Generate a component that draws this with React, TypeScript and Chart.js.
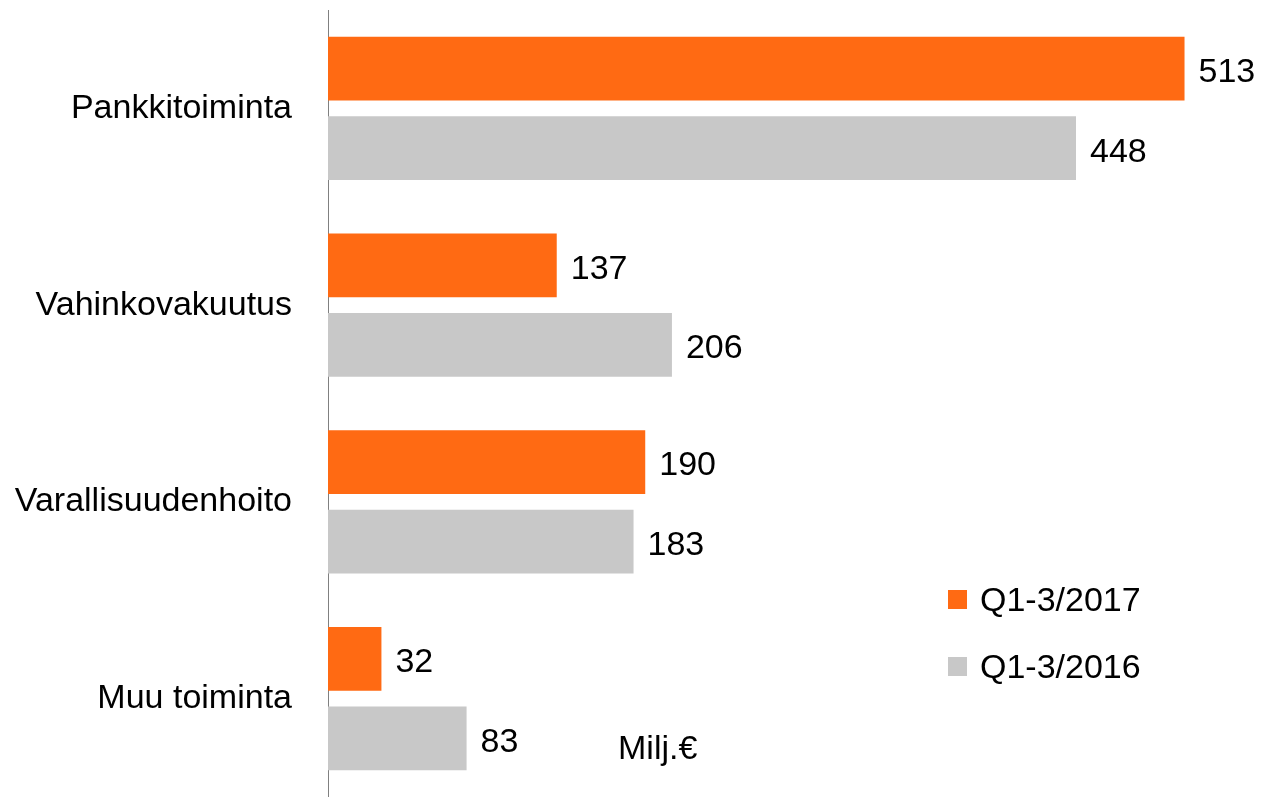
import React, { useEffect, useRef } from "react";
import { Chart, registerables } from "chart.js";

Chart.register(...registerables);

const categories = ["Pankkitoiminta", "Vahinkovakuutus", "Varallisuudenhoito", "Muu toiminta"];
const series2017 = [513, 137, 190, 32];
const series2016 = [448, 206, 183, 83];
const seriesLabels = ["Q1-3/2017", "Q1-3/2016"];
const unitLabel = "Milj.€";

const FONT = "'Liberation Sans', Arial, sans-serif";

const overlayPlugin = {
  id: "overlay",
  afterDatasetsDraw(chart: any) {
    const ctx = chart.ctx;
    ctx.save();
    ctx.font = `34px ${FONT}`;
    ctx.fillStyle = "#000";
    ctx.textBaseline = "middle";
    ctx.textAlign = "left";
    chart.data.datasets.forEach((ds: any, di: number) => {
      const meta = chart.getDatasetMeta(di);
      meta.data.forEach((bar: any, i: number) => {
        ctx.fillText(String(ds.data[i]), bar.x + 14, bar.y + 4);
      });
    });
    // legend
    const lx = 948;
    const ys = [599, 666];
    chart.data.datasets.forEach((ds: any, di: number) => {
      ctx.fillStyle = ds.backgroundColor;
      ctx.fillRect(lx, ys[di] - 9, 19, 19);
      ctx.fillStyle = "#000";
      ctx.fillText(ds.label, lx + 32, ys[di] + 3);
    });
    ctx.fillText(unitLabel, 618, 750);
    ctx.restore();
  },
};

export default function App() {
  const ref = useRef<HTMLCanvasElement>(null);
  useEffect(() => {
    if (!ref.current) return;
    const chart = new Chart(ref.current, {
      type: "bar",
      data: {
        labels: categories,
        datasets: [
          { label: seriesLabels[0], data: series2017, backgroundColor: "#FF6A13" },
          { label: seriesLabels[1], data: series2016, backgroundColor: "#C8C8C8" },
        ],
      },
      options: {
        indexAxis: "y",
        animation: false,
        responsive: false,
        maintainAspectRatio: false,
        datasets: { bar: { categoryPercentage: 0.81, barPercentage: 0.8 } },
        layout: { padding: { top: 10, bottom: 0, left: 0, right: 0 } },
        plugins: { legend: { display: false }, tooltip: { enabled: false } },
        scales: {
          x: { display: false, min: 0, max: 560 },
          y: {
            grid: { display: false, drawTicks: false },
            border: { display: true, color: "#808080", width: 1 },
            ticks: { color: "#000", font: { family: FONT, size: 34 }, padding: 36 },
            afterFit(scale: any) {
              scale.width = 328;
              scale.paddingTop = 0;
              scale.paddingBottom = 0;
            },
          },
        },
      },
      plugins: [overlayPlugin],
    });
    return () => chart.destroy();
  }, []);
  return (
    <div style={{ position: "absolute", left: 0, top: 0, width: 1263, height: 797, background: "#fff" }}>
      <canvas ref={ref} width={1263} height={797} style={{ display: "block" }} />
    </div>
  );
}
